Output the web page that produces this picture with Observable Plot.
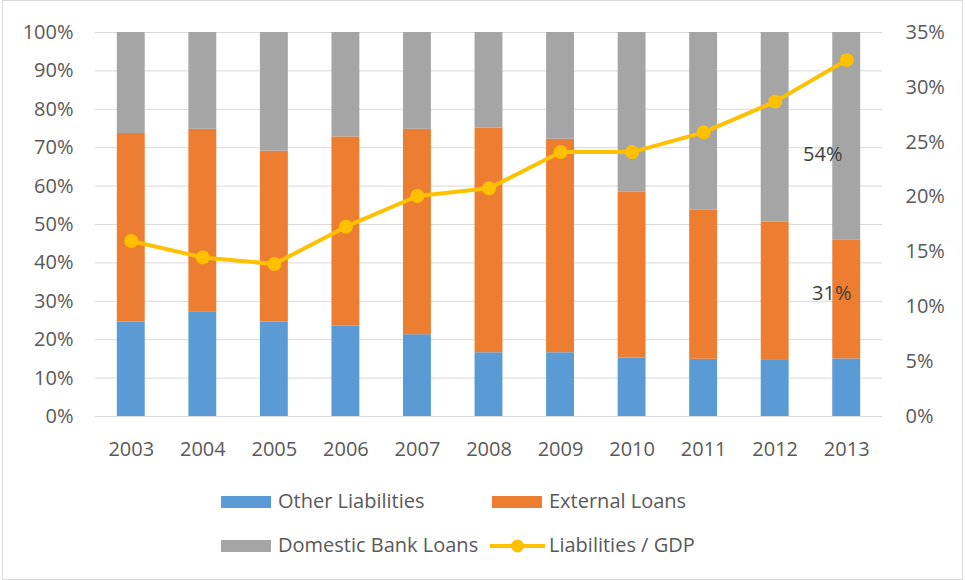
<!DOCTYPE html>
<html>
<head>
<meta charset="utf-8">
<script src="https://cdn.jsdelivr.net/npm/d3@7"></script>
<script src="https://cdn.jsdelivr.net/npm/@observablehq/plot@0.6"></script>
<style>
  html, body { margin: 0; padding: 0; background: #fff; }
  #wrap { position: relative; width: 965px; height: 580px; font-family: "Open Sans", sans-serif; color: #595959; }
  #border { position: absolute; left: 2px; top: 0px; width: 961px; height: 580px; box-sizing: border-box; border: 1px solid #d9d9d9; pointer-events: none; }
  .lg { position: absolute; font-size: 20px; line-height: 24px; white-space: nowrap; color: #595959; }
  .sw { position: absolute; width: 50px; height: 12px; }
</style>
</head>
<body>
<div id="wrap">
  <div id="chart"></div>
  <div id="legend"></div>
  <div id="border"></div>
</div>
<script>
// ---- data ----
const years = ["2003","2004","2005","2006","2007","2008","2009","2010","2011","2012","2013"];
const otherLiabilities = [24.6, 27.3, 24.6, 23.6, 21.3, 16.6, 16.6, 15.2, 14.9, 14.6, 15.0];
const externalLoans    = [49.1, 47.5, 44.5, 49.2, 53.5, 58.5, 55.6, 43.2, 38.8, 36.1, 31.0];
const domesticLoans    = [26.3, 25.2, 30.9, 27.2, 25.2, 24.9, 27.8, 41.6, 46.3, 49.3, 54.0];
const liabilitiesGDP   = [16.0, 14.5, 13.9, 17.3, 20.1, 20.8, 24.1, 24.1, 25.9, 28.7, 32.5];
const seriesNames = ["Other Liabilities", "External Loans", "Domestic Bank Loans", "Liabilities / GDP"];
const seriesColors = ["#5b9bd5", "#ed7d31", "#a5a5a5", "#ffc000"];
const leftTicks = [0, 10, 20, 30, 40, 50, 60, 70, 80, 90, 100];
const rightTicks = [0, 5, 10, 15, 20, 25, 30, 35];
const rightMax = 35;
const annotations = [
  {year: "2013", series: "Domestic Bank Loans", label: "54%"},
  {year: "2013", series: "External Loans", label: "31%"}
];

// ---- build tables ----
const stackArrays = [otherLiabilities, externalLoans, domesticLoans];
const bars = [];
stackArrays.forEach((arr, s) => arr.forEach((v, i) => bars.push({year: years[i], series: seriesNames[s], value: v})));
const toLeft = v => v * 100 / rightMax;
const line = years.map((y, i) => ({year: y, value: toLeft(liabilitiesGDP[i])}));

// midpoints of annotated segments
const annot = annotations.map(a => {
  const i = years.indexOf(a.year);
  let base = 0, mid = 0;
  for (let s = 0; s < stackArrays.length; s++) {
    const v = stackArrays[s][i];
    if (seriesNames[s] === a.series) { mid = base + v / 2; break; }
    base += v;
  }
  return {...a, mid};
});

const chart = Plot.plot({
  width: 965,
  height: 580,
  marginLeft: 95,
  marginRight: 83,
  marginTop: 32,
  marginBottom: 164,
  style: {fontFamily: "Open Sans, sans-serif", fontSize: "20px", color: "#595959", background: "transparent"},
  x: {domain: years, paddingInner: 0.61, paddingOuter: 0.305, round: false, label: null},
  y: {domain: [0, 100], label: null},
  color: {domain: seriesNames.slice(0, 3), range: seriesColors.slice(0, 3)},
  marks: [
    Plot.gridY(leftTicks, {stroke: "#d9d9d9", strokeOpacity: 1, strokeWidth: 1}),
    Plot.barY(bars, {x: "year", y: "value", fill: "series", order: seriesNames.slice(0, 3)}),
    Plot.axisY(leftTicks, {anchor: "left", tickSize: 0, tickPadding: 22, tickFormat: d => d + "%", label: null}),
    Plot.axisY(rightTicks.map(toLeft), {anchor: "right", tickSize: 0, tickPadding: 23, tickFormat: d => Math.round(d * rightMax / 100) + "%", label: null}),
    Plot.axisX({tickSize: 0, tickPadding: 25, label: null}),
    Plot.line(line, {x: "year", y: "value", stroke: seriesColors[3], strokeWidth: 4}),
    Plot.dot(line, {x: "year", y: "value", fill: seriesColors[3], r: 7}),
    Plot.text(annot.filter(d => d.label === "54%"), {x: "year", y: "mid", text: "label", dx: -24, dy: 18, fill: "#404040", fontSize: 20}),
    Plot.text(annot.filter(d => d.label === "31%"), {x: "year", y: "mid", text: "label", dx: -15, dy: -6, fill: "#404040", fontSize: 20})
  ]
});
document.getElementById("chart").appendChild(chart);

// ---- legend (HTML) ----
const legend = document.getElementById("legend");
const positions = [
  {sx: 221, tx: 278, cy: 501.5},
  {sx: 492, tx: 549, cy: 501.5},
  {sx: 221, tx: 278, cy: 546},
  {sx: 492, tx: 549, cy: 546}
];
seriesNames.forEach((name, i) => {
  const p = positions[i];
  if (i < 3) {
    const sw = document.createElement("div");
    sw.className = "sw";
    sw.style.left = p.sx + "px";
    sw.style.top = (p.cy - 6) + "px";
    sw.style.background = seriesColors[i];
    legend.appendChild(sw);
  } else {
    const ns = "http://www.w3.org/2000/svg";
    const svg = document.createElementNS(ns, "svg");
    svg.setAttribute("width", 56); svg.setAttribute("height", 20);
    svg.style.position = "absolute";
    svg.style.left = (p.sx - 2) + "px";
    svg.style.top = (p.cy - 10) + "px";
    const ln = document.createElementNS(ns, "line");
    ln.setAttribute("x1", 0); ln.setAttribute("x2", 55); ln.setAttribute("y1", 10); ln.setAttribute("y2", 10);
    ln.setAttribute("stroke", seriesColors[i]); ln.setAttribute("stroke-width", 4);
    const c = document.createElementNS(ns, "circle");
    c.setAttribute("cx", 27.5); c.setAttribute("cy", 10); c.setAttribute("r", 6.5);
    c.setAttribute("fill", seriesColors[i]);
    svg.appendChild(ln); svg.appendChild(c);
    legend.appendChild(svg);
  }
  const t = document.createElement("div");
  t.className = "lg";
  t.textContent = name;
  t.style.left = p.tx + "px";
  t.style.top = (p.cy - 13) + "px";
  legend.appendChild(t);
});
</script>
</body>
</html>
